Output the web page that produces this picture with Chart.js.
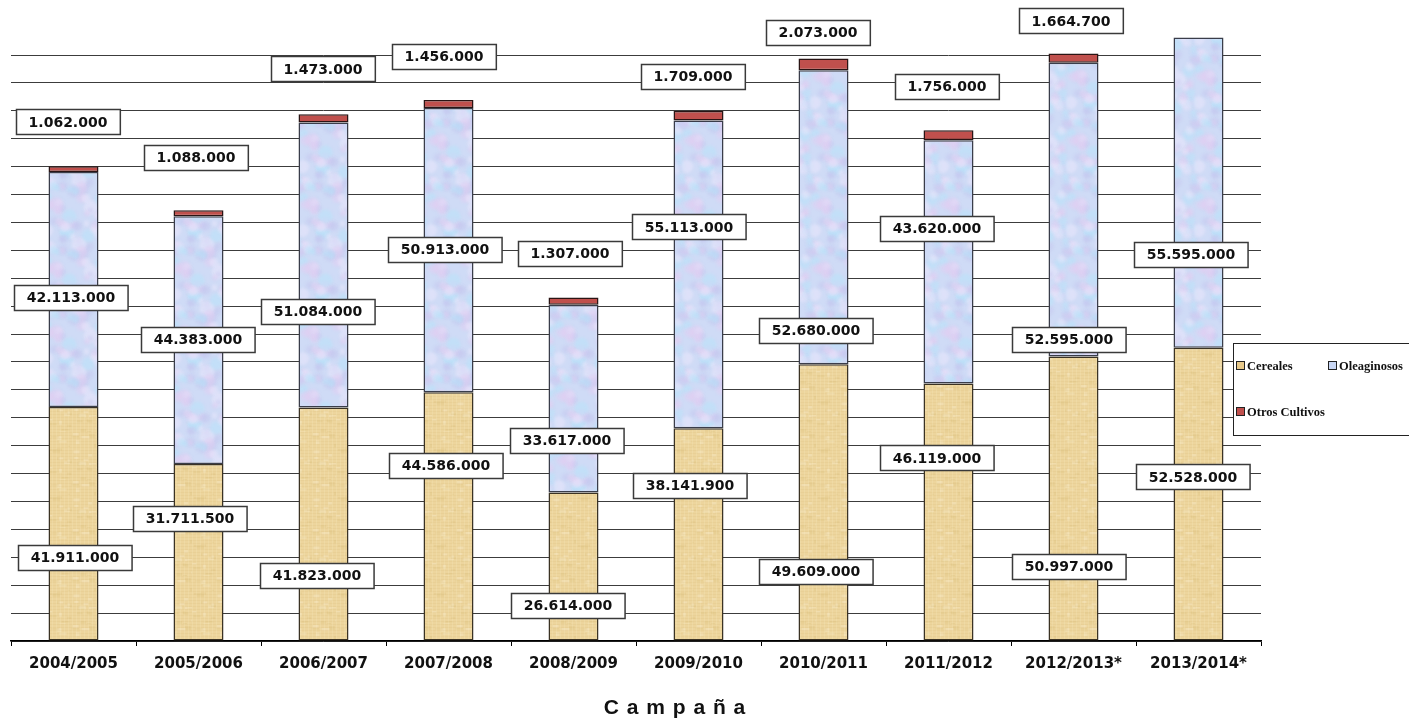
<!DOCTYPE html>
<html>
<head>
<meta charset="utf-8">
<script src="https://cdn.jsdelivr.net/npm/chart.js@4/dist/chart.umd.min.js"></script>
<style>
html,body{margin:0;padding:0;background:#fff;}
#wrap{width:1409px;height:719px;}
</style>
</head>
<body>
<div id="wrap"><canvas id="c" width="1409" height="719"></canvas></div>
<script>
// ---- data ----
const categories = ['2004/2005','2005/2006','2006/2007','2007/2008','2008/2009','2009/2010','2010/2011','2011/2012','2012/2013*','2013/2014*'];
const cereales = [41911000, 31711500, 41823000, 44586000, 26614000, 38141900, 49609000, 46119000, 50997000, 52528000];
const oleaginosos = [42113000, 44383000, 51084000, 50913000, 33617000, 55113000, 52680000, 43620000, 52595000, 55595000];
const otrosCultivos = [1062000, 1088000, 1473000, 1456000, 1307000, 1709000, 2073000, 1756000, 1664700, null];
const seriesNames = ['Cereales','Oleaginosos','Otros Cultivos'];
const yMax = 105000000, yStep = 5000000;

// label anchor values (in millions, on the value scale) and horizontal offsets
const cerealesLabelAt = [14.9, 22.0, 11.8, 31.4, 6.3, 27.8, 12.5, 32.8, 13.3, 29.4];
const oleaginososLabelAt = [61.6, 54.1, 59.1, 70.1, 36.0, 74.2, 55.7, 74.0, 54.1, 69.2];
const otrosLabelAt = [93.0, 86.6, 102.5, 104.8, 69.5, 101.1, 109.1, 99.3, 111.1, null];
const cerealesLabelDx = [1.5, -8.5, -6.5, -2.5, -5.5, -8.5, -7.5, -11.5, -4.5, -5.5];
const oleaginososLabelDx = [-2.5, -0.5, -5.5, -3.5, -6.5, -9.5, -7.5, -11.5, -4.5, -7.5];
const otrosLabelDx = [-5.5, -2.5, -0.5, -4.5, -3.5, -5.5, -5.5, -1.5, -2.5, 0];

// ---- textures ----
function h(i){ const x = Math.sin(i*12.9898 + 78.233)*43758.5453; return x - Math.floor(x); }
function makeCereal(){
  const c = document.createElement('canvas'); c.width = 48; c.height = 48;
  const g = c.getContext('2d');
  g.fillStyle = '#edd59d'; g.fillRect(0,0,48,48);
  let k = 1;
  for(let n=0;n<40;n++){
    const x = h(k++)*48, y = h(k++)*48, w = 2 + h(k++)*6, hh = 1 + h(k++)*3;
    g.fillStyle = n%2 ? 'rgba(215,185,115,0.22)' : 'rgba(250,238,205,0.35)';
    g.fillRect(x,y,w,hh);
  }
  for(let y=0;y<48;y+=3){ g.fillStyle='rgba(205,175,110,0.12)'; g.fillRect(0,y,48,1); }
  for(let x=0;x<48;x+=4){ g.fillStyle='rgba(255,245,215,0.15)'; g.fillRect(x,0,1,48); }
  return g.createPattern(c,'repeat');
}
function makeOleag(){
  const c = document.createElement('canvas'); c.width = 64; c.height = 64;
  const g = c.getContext('2d');
  g.fillStyle = '#cfdbf6'; g.fillRect(0,0,64,64);
  const cols = ['rgba(228,205,242,0.45)','rgba(180,228,250,0.45)','rgba(195,195,238,0.4)','rgba(240,232,252,0.45)'];
  let k = 7;
  g.filter = 'blur(1.5px)';
  for(let n=0;n<55;n++){
    const x = h(k++)*64, y = h(k++)*64, r = 2.5 + h(k++)*5;
    g.fillStyle = cols[n%4];
    for(const ox of [-64,0,64]) for(const oy of [-64,0,64]){
      g.beginPath(); g.arc(x+ox,y+oy,r,0,Math.PI*2); g.fill();
    }
  }
  g.filter = 'none';
  return g.createPattern(c,'repeat');
}
const cerealPattern = makeCereal();
const oleagPattern = makeOleag();

function fmt(v){ return String(Math.round(v)).replace(/\B(?=(\d{3})+(?!\d))/g,'.'); }

const labelPlugin = {
  id:'boxLabels',
  afterDatasetsDraw(chart){
    const ctx = chart.ctx, xs = chart.scales.x, ys = chart.scales.y;
    const sets = [
      [cereales, cerealesLabelAt, cerealesLabelDx],
      [oleaginosos, oleaginososLabelAt, oleaginososLabelDx],
      [otrosCultivos, otrosLabelAt, otrosLabelDx]
    ];
    ctx.save();
    ctx.font = 'bold 14px "DejaVu Sans", Verdana, sans-serif';
    ctx.textAlign = 'center'; ctx.textBaseline = 'middle';
    sets.forEach(([vals, at, dx])=>{
      vals.forEach((v,i)=>{
        if(v==null || at[i]==null) return;
        const txt = fmt(v);
        const cx = xs.getPixelForValue(i) + dx[i];
        const cy = ys.getPixelForValue(at[i]*1e6);
        const w = ctx.measureText(txt).width + 25, hh = 25;
        const x0 = Math.round(cx - w/2)+0.5, y0 = Math.round(cy - hh/2)+0.5;
        ctx.fillStyle = '#fff'; ctx.fillRect(x0,y0,w,hh);
        ctx.strokeStyle = '#3a3a3a'; ctx.lineWidth = 1.5; ctx.strokeRect(x0,y0,w,hh);
        ctx.fillStyle = '#111'; ctx.fillText(txt, cx, cy+1);
      });
    });
    ctx.restore();
  },
  afterDraw(chart){
    const ctx = chart.ctx;
    ctx.save();
    // legend
    ctx.fillStyle = '#fff'; ctx.fillRect(1233.5,343.5,200,92);
    ctx.strokeStyle = '#222'; ctx.lineWidth = 1; ctx.strokeRect(1233.5,343.5,200,92);
    const items = [
      [seriesNames[0], '#e8c98a', 1236, 366],
      [seriesNames[1], '#c8d6f4', 1328, 366],
      [seriesNames[2], '#c0504d', 1236, 412]
    ];
    ctx.font = 'bold 12.5px "Liberation Serif", "Times New Roman", serif';
    ctx.textBaseline = 'middle'; ctx.textAlign = 'left';
    items.forEach(([t,c,x,y])=>{
      ctx.fillStyle = c; ctx.fillRect(x+0.5,y-4.5,8,8);
      ctx.strokeStyle = '#222'; ctx.lineWidth = 1; ctx.strokeRect(x+0.5,y-4.5,8,8);
      ctx.fillStyle = '#111'; ctx.fillText(t, x+11, y+1);
    });
    // axis title
    ctx.font = 'bold 21px "Liberation Sans", Arial, sans-serif';
    ctx.textAlign = 'center'; ctx.fillStyle = '#111';
    if('letterSpacing' in ctx) ctx.letterSpacing = '1px';
    ctx.fillText('C a m p a ñ a', 675, 708);
    ctx.restore();
  }
};

new Chart(document.getElementById('c'), {
  type:'bar',
  data:{
    labels: categories,
    datasets:[
      {label:seriesNames[0], data:cereales, backgroundColor:cerealPattern, borderColor:'#3b3324', borderWidth:1.5, borderSkipped:false, clip:false},
      {label:seriesNames[1], data:oleaginosos, backgroundColor:oleagPattern, borderColor:'#3a3d4a', borderWidth:1.5, borderSkipped:false, clip:false},
      {label:seriesNames[2], data:otrosCultivos, backgroundColor:'#c0504d', borderColor:'#2a1414', borderWidth:1.5, borderSkipped:false, clip:false}
    ]
  },
  options:{
    responsive:false, animation:false,
    barPercentage:0.4, categoryPercentage:1,
    layout:{padding:{left:11, right:148, top:55, bottom:0}},
    plugins:{legend:{display:false}, tooltip:{enabled:false}, title:{display:false}},
    scales:{
      x:{
        stacked:true,
        afterFit(s){ s.height = 78; },
        grid:{display:true, drawOnChartArea:false, drawTicks:true, tickLength:5, color:'#000', offset:true},
        border:{display:true, color:'#000', width:1.5},
        ticks:{color:'#111', font:{family:'"DejaVu Sans", Verdana, sans-serif', size:15, weight:'bold'}, padding:9, maxRotation:0, autoSkip:false}
      },
      y:{
        stacked:true, min:0, max:yMax,
        afterFit(s){ s.width = 0; },
        ticks:{display:false, stepSize:yStep},
        grid:{color:'#3c3c3c', lineWidth:1, drawTicks:false},
        border:{display:false}
      }
    }
  },
  plugins:[labelPlugin]
});
</script>
</body>
</html>
